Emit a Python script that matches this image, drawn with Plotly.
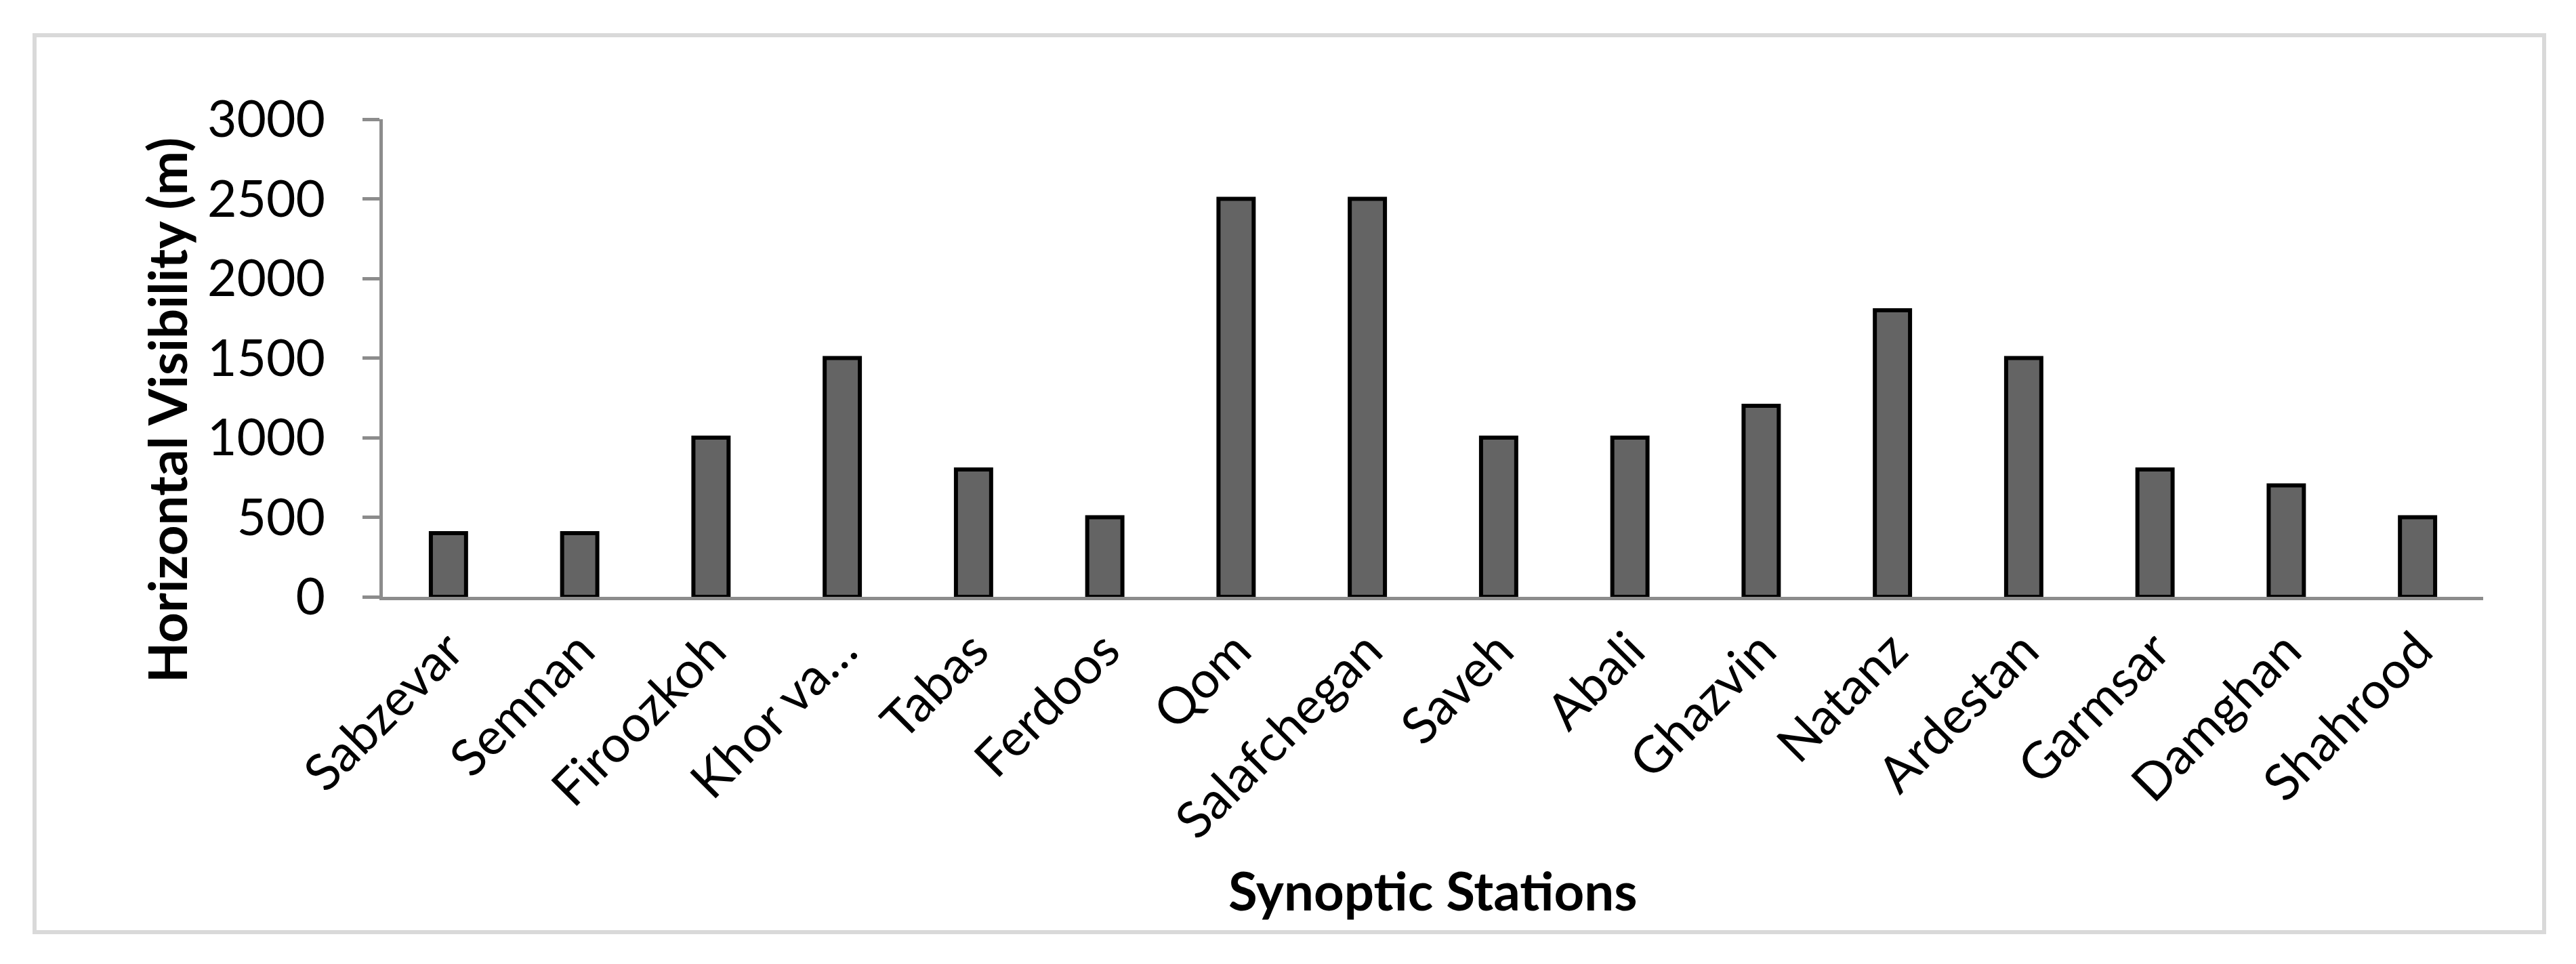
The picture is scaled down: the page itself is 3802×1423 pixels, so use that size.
import plotly.graph_objects as go

# ---- data ----
stations = ["Sabzevar", "Semnan", "Firoozkoh", "Khor va…", "Tabas", "Ferdoos",
            "Qom", "Salafchegan", "Saveh", "Abali", "Ghazvin", "Natanz",
            "Ardestan", "Garmsar", "Damghan", "Shahrood"]
visibility = [400, 400, 1000, 1500, 800, 500, 2500, 2500, 1000, 1000,
              1200, 1800, 1500, 800, 700, 500]
y_ticks = [0, 500, 1000, 1500, 2000, 2500, 3000]
x_title = "Synoptic Stations"
y_title = "Horizontal Visibility (m)"

# ---- geometry (page pixels; the page body adds an 8px margin) ----
OFF = 8
PAGE_W, PAGE_H = 3802, 1423
W, H = PAGE_W - OFF, PAGE_H - OFF
L, R, T, B = 565 - OFF, 3665 - OFF, 176 - OFF, 881 - OFF
PW, PH = R - L, B - T
FONT = "Lato"
FS = 75
AXIS_COLOR = "#8c8c8c"


def px_x(p):
    return (p - OFF - L) / PW


def px_y(p):
    return (B - (p - OFF)) / PH


fig = go.Figure(
    go.Bar(
        x=stations,
        y=visibility,
        width=0.268,
        marker=dict(color="#646464", line=dict(color="#000000", width=6)),
    )
)

fig.update_layout(
    width=W,
    height=H,
    autosize=False,
    margin=dict(l=L, r=W - R, t=T, b=H - B, pad=0),
    paper_bgcolor="white",
    plot_bgcolor="white",
    showlegend=False,
    font=dict(family=FONT, size=FS, color="black"),
    shapes=[
        dict(type="rect", xref="paper", yref="paper",
             x0=px_x(51), x1=px_x(3755), y0=px_y(1376), y1=px_y(52),
             line=dict(color="#d9d9d9", width=6), layer="below")
    ],
    annotations=[
        dict(text=y_title, xref="paper", yref="paper",
             x=px_x(246), y=px_y(606), xanchor="center", yanchor="middle",
             textangle=-90, showarrow=False,
             font=dict(family=FONT, size=78, color="black", weight="bold")),
        dict(text=x_title, xref="paper", yref="paper",
             x=px_x(2115), y=px_y(1314), xanchor="center", yanchor="middle",
             showarrow=False,
             font=dict(family=FONT, size=78, color="black", weight="bold")),
    ],
)

fig.update_xaxes(
    type="category",
    showline=True, linecolor=AXIS_COLOR, linewidth=5,
    ticks="", showgrid=False, zeroline=False,
    tickangle=-45,
    tickfont=dict(family=FONT, size=FS, color="black"),
    ticklabelstandoff=0,
    automargin=False,
)

fig.update_yaxes(
    range=[0, 3000],
    tickvals=y_ticks,
    ticktext=[str(v) for v in y_ticks],
    showline=True, linecolor=AXIS_COLOR, linewidth=5,
    ticks="outside", ticklen=25, tickwidth=5, tickcolor=AXIS_COLOR,
    showgrid=False, zeroline=False,
    tickfont=dict(family=FONT, size=FS, color="black"),
    ticklabelstandoff=40,
    automargin=False,
)

fig.write_html("out.html")
